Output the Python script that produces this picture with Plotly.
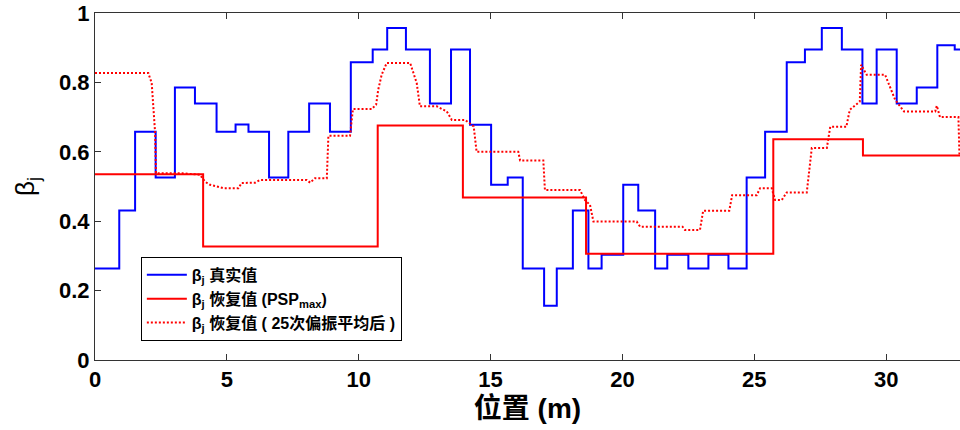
import plotly.graph_objects as go

# True beta_j: step levels and the positions (m) where each level begins
true_pos = [0, 0.92, 1.52, 2.30, 3.03, 3.79, 4.61, 5.33, 5.82, 6.60, 7.33, 8.12, 8.91, 9.70,
            10.53, 11.08, 11.79, 12.70, 13.50, 14.22, 15.02, 15.65, 16.22, 17.03, 17.51,
            18.12, 18.71, 19.21, 20.03, 20.60, 21.24, 21.70, 22.50, 23.26, 24.02, 24.71,
            25.41, 26.23, 26.92, 27.56, 28.32, 29.10, 29.64, 30.40, 31.16, 31.94, 32.60]
true_val = [0.264, 0.431, 0.658, 0.526, 0.785, 0.739, 0.658, 0.679, 0.658, 0.526, 0.658,
            0.739, 0.658, 0.858, 0.895, 0.957, 0.895, 0.739, 0.895, 0.678, 0.505, 0.526,
            0.264, 0.156, 0.264, 0.431, 0.264, 0.303, 0.505, 0.431, 0.264, 0.303, 0.264,
            0.303, 0.264, 0.526, 0.658, 0.858, 0.895, 0.957, 0.895, 0.739, 0.895, 0.739,
            0.785, 0.907, 0.895]

# Recovered beta_j from PSP_max: step levels
psp_pos = [0, 4.10, 10.72, 13.95, 18.62, 25.72, 29.12]
psp_val = [0.535, 0.327, 0.676, 0.468, 0.306, 0.636, 0.589]

# Recovered beta_j averaged over 25 polarisation states
avg_pos = [0, 2.02, 2.15, 2.28, 2.31, 3.31, 3.98, 4.17, 4.36, 4.68, 4.87, 5.44, 5.56, 6.07,
           6.26, 8.03, 8.16, 8.34, 8.79, 8.85, 9.67, 9.78, 10.49, 10.66, 10.74, 10.87, 11.06,
           11.95, 12.07, 12.20, 12.32, 12.96, 13.34, 13.53, 14.03, 14.36, 14.47, 16.05, 16.12,
           17.00, 17.06, 18.39, 18.58, 18.77, 18.90, 20.54, 20.67, 22.28, 22.37, 22.94, 23.06,
           24.05, 24.16, 25.09, 25.22, 25.66, 25.79, 26.04, 26.23, 26.99, 27.18, 27.75, 27.88,
           28.49, 28.62, 29.00, 29.05, 29.26, 29.96, 30.08, 30.34, 30.68, 31.86, 31.92, 32.04,
           32.74, 32.78]
avg_val = [0.827, 0.827, 0.798, 0.654, 0.538, 0.538, 0.534, 0.514, 0.505, 0.500, 0.495, 0.495,
           0.510, 0.511, 0.519, 0.519, 0.511, 0.524, 0.524, 0.646, 0.646, 0.723, 0.723, 0.736,
           0.779, 0.822, 0.856, 0.856, 0.827, 0.798, 0.731, 0.731, 0.716, 0.692, 0.692, 0.673,
           0.600, 0.600, 0.575, 0.575, 0.490, 0.490, 0.461, 0.447, 0.399, 0.399, 0.384, 0.384,
           0.375, 0.375, 0.430, 0.430, 0.475, 0.475, 0.495, 0.495, 0.461, 0.461, 0.483, 0.483,
           0.611, 0.611, 0.672, 0.672, 0.721, 0.745, 0.851, 0.822, 0.822, 0.798, 0.750, 0.716,
           0.716, 0.733, 0.700, 0.700, 0.589]

x_end = 32.8
x_ticks = [0, 5, 10, 15, 20, 25, 30]
y_ticks = [0, 0.2, 0.4, 0.6, 0.8, 1]
y_tick_text = ["0", "0.2", "0.4", "0.6", "0.8", "1"]

names = ["β<sub>j</sub> 真实值",
         "β<sub>j</sub> 恢复值 (PSP<sub>max</sub>)",
         "β<sub>j</sub> 恢复值 ( 25次偏振平均后 )"]

FONT = "Liberation Sans, Arial, Noto Sans CJK SC, sans-serif"

fig = go.Figure()
fig.add_trace(go.Scatter(x=true_pos + [x_end], y=true_val + [true_val[-1]], mode="lines",
                         line=dict(color="#0000ff", width=2, shape="hv"), name=names[0]))
fig.add_trace(go.Scatter(x=psp_pos + [x_end], y=psp_val + [psp_val[-1]], mode="lines",
                         line=dict(color="#ff0000", width=2, shape="hv"), name=names[1]))
fig.add_trace(go.Scatter(x=avg_pos, y=avg_val, mode="lines",
                         line=dict(color="#ff0000", width=2, dash="2px,2px"), name=names[2]))

fig.update_layout(
    width=960, height=430,
    margin=dict(l=95, r=0, t=13, b=70),
    plot_bgcolor="white", paper_bgcolor="white",
    font=dict(family=FONT, color="black"),
    showlegend=True,
    legend=dict(x=0.053, y=0.297, xanchor="left", yanchor="top",
                bgcolor="white", bordercolor="black", borderwidth=1,
                font=dict(size=16, family=FONT, weight="bold"),
                itemwidth=40, tracegroupgap=0),
    xaxis=dict(range=[0, x_end], tickvals=x_ticks, ticks="inside", ticklen=6,
               tickcolor="#333", showline=True, linecolor="#333", linewidth=1,
               mirror="ticks", showgrid=False, zeroline=False,
               tickfont=dict(size=22, family=FONT, weight="bold"),
               title=dict(text="位置 (m)", standoff=6,
                          font=dict(size=28, family=FONT, weight="bold"))),
    yaxis=dict(range=[0, 1], tickvals=y_ticks, ticktext=y_tick_text, ticks="inside",
               ticklen=6, tickcolor="#333", showline=True, linecolor="#333", linewidth=1,
               mirror=False, showgrid=False, zeroline=False,
               tickfont=dict(size=22, family=FONT, weight="bold"),
               title=dict(text="β<sub>j</sub>", standoff=16,
                          font=dict(size=26, family=FONT))),
    yaxis2=dict(range=[0, 1], tickvals=y_ticks, overlaying="y", side="right",
                ticks="inside", ticklen=6, tickcolor="#333", showticklabels=False,
                showline=False, showgrid=False, zeroline=False),
)

fig.write_html("out.html")
